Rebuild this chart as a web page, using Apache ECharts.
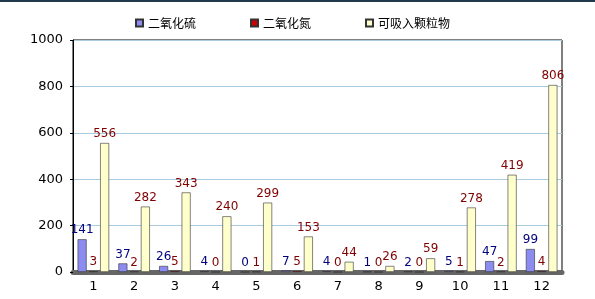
<!DOCTYPE html>
<html>
<head>
<meta charset="utf-8">
<script src="https://cdn.jsdelivr.net/npm/echarts@6/dist/echarts.min.js"></script>
<style>
  html, body { margin: 0; padding: 0; background: #fff; }
  #main { width: 595px; height: 299px; border-top: 2px solid #1f3a4a; box-sizing: border-box; }
</style>
</head>
<body>
<div id="main"></div>
<script>
var categories = ['1','2','3','4','5','6','7','8','9','10','11','12'];
var so2 = [141, 37, 26, 4, 0, 7, 4, 1, 2, 5, 47, 99];
var no2 = [3, 2, 5, 0, 1, 5, 0, 0, 0, 1, 2, 4];
var pm = [556, 282, 343, 240, 299, 153, 44, 26, 59, 278, 419, 806];
var yTicks = [0, 200, 400, 600, 800, 1000];

var chart = echarts.init(document.getElementById('main'));

function bar(name, data, color, labelColor){
    return {
        name: name,
        type: 'bar',
        data: data,
        barWidth: 9,
        itemStyle: { color: color, borderColor: '#333', borderWidth: 0.6 },
        label: {
            show: true,
            position: 'top',
            distance: 3,
            color: labelColor,
            fontFamily: 'DejaVu Sans',
            fontSize: 12
        }
    };
}

chart.setOption({
    animation: false,
    textStyle: { fontFamily: 'DejaVu Sans' },
    legend: {
        top: 10,
        left: 130,
        itemGap: 54,
        itemWidth: 7,
        itemHeight: 7,
        icon: 'rect',
        textStyle: { fontFamily: 'Noto Sans CJK SC', fontSize: 12, color: '#000' },
        data: ['二氧化硫', '二氧化氮', '可吸入颗粒物']
    },
    grid: { left: 73, right: 33, top: 38, bottom: 27, show: true, borderColor: '#000', borderWidth: 1 },
    xAxis: {
        type: 'category',
        data: categories,
        axisTick: { show: false },
        axisLine: { lineStyle: { color: '#666', width: 5 } },
        axisLabel: { color: '#000', fontSize: 13, margin: 8 }
    },
    yAxis: {
        type: 'value',
        min: yTicks[0],
        max: yTicks[yTicks.length - 1],
        interval: 200,
        axisLine: { show: true, lineStyle: { color: '#000' } },
        axisTick: { show: true, length: 3, lineStyle: { color: '#000' } },
        axisLabel: { color: '#000', fontSize: 13, margin: 10, formatter: function(v){ return String(v); } },
        splitLine: { lineStyle: { color: '#a9cce0' } }
    },
    series: [
        Object.assign(bar('二氧化硫', so2, '#8c8cf0', '#000080'), { barGap: '25%' }),
        bar('二氧化氮', no2, '#cc0000', '#800000'),
        bar('可吸入颗粒物', pm, '#ffffcc', '#800000')
    ]
});
</script>
</body>
</html>
